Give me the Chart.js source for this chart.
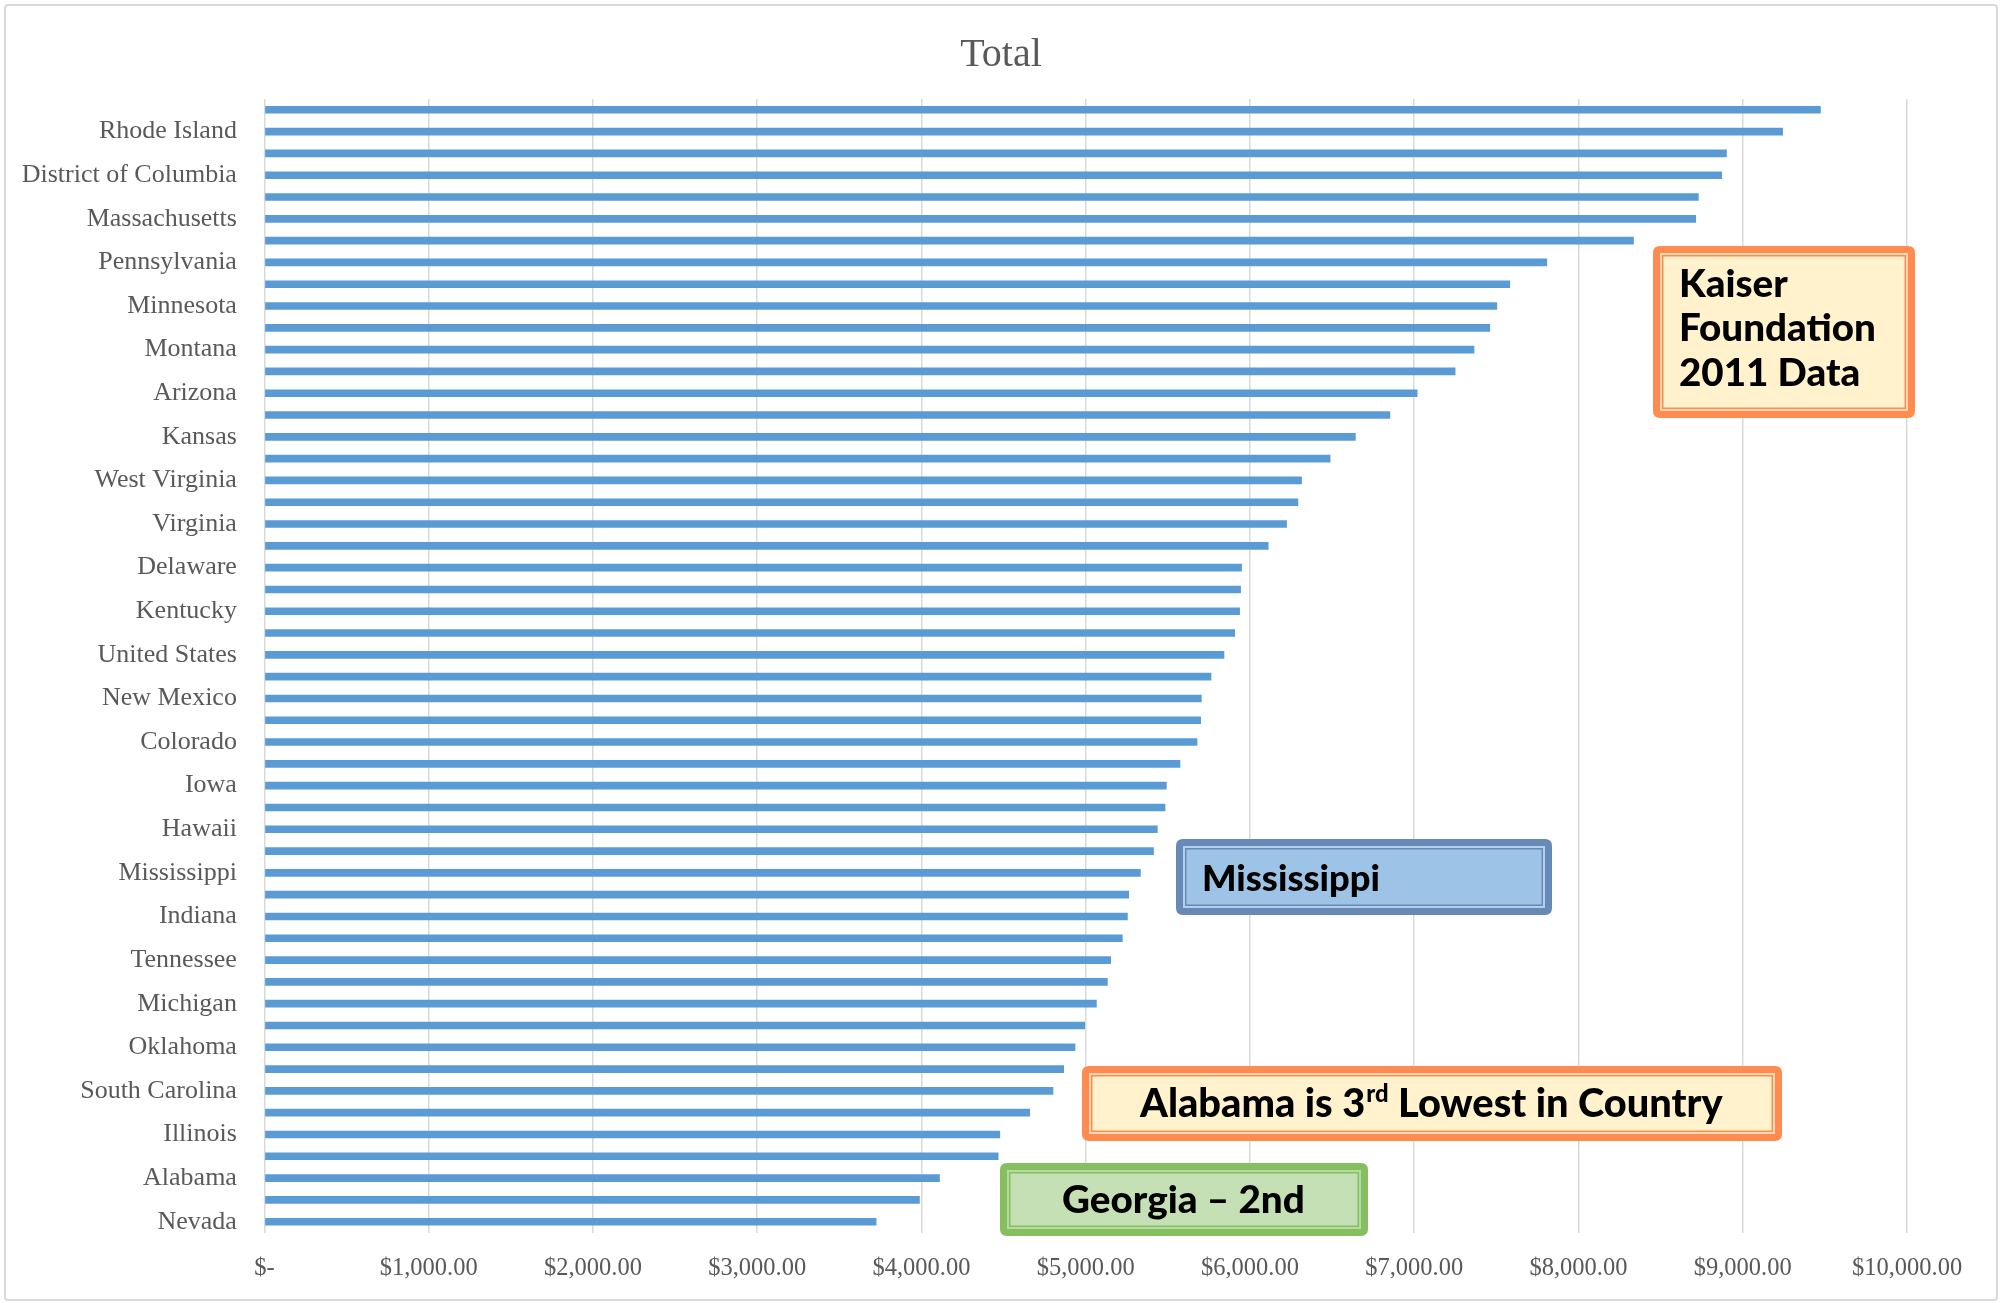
<!DOCTYPE html>
<html><head><meta charset="utf-8">
<script src="https://cdn.jsdelivr.net/npm/chart.js@4.4.1/dist/chart.umd.min.js"></script>
<style>html,body{margin:0;padding:0;background:#fff;overflow:hidden}canvas{display:block}</style>
</head><body>
<canvas id="c" width="2003" height="1303"></canvas>
<script>
const chartTitle = 'Total';
const states = ['Alaska','Rhode Island','New York','District of Columbia','North Dakota','Massachusetts','Connecticut','Pennsylvania','Vermont','Minnesota','New Jersey','Montana','Maine','Arizona','Wyoming','Kansas','New Hampshire','West Virginia','Nebraska','Virginia','Maryland','Delaware','Oregon','Kentucky','Missouri','United States','Wisconsin','New Mexico','Ohio','Colorado','Washington','Iowa','South Dakota','Hawaii','Louisiana','Mississippi','North Carolina','Indiana','Arkansas','Tennessee','Idaho','Michigan','Utah','Oklahoma','Texas','South Carolina','Florida','Illinois','California','Alabama','Georgia','Nevada'];
const totals = [9475,9245,8903,8874,8732,8716,8337,7809,7584,7505,7462,7366,7251,7020,6854,6644,6490,6316,6294,6225,6113,5951,5945,5939,5909,5844,5765,5706,5702,5680,5576,5493,5485,5438,5415,5335,5264,5256,5225,5154,5134,5067,4996,4937,4868,4803,4661,4479,4469,4112,3990,3726];
const xTickLabels = ['$-','$1,000.00','$2,000.00','$3,000.00','$4,000.00','$5,000.00','$6,000.00','$7,000.00','$8,000.00','$9,000.00','$10,000.00'];
const kaiserLines = ['Kaiser','Foundation','2011 Data'];
const mississippiNote = 'Mississippi';
const alabamaNote = ['Alabama is 3','rd',' Lowest in Country'];
const georgiaNote = 'Georgia \u2013 2nd';

const NOTE_FONT = '900 {s}px Lato';
function nf(s){return NOTE_FONT.replace('{s}',s);}
function rrect(ctx,x,y,w,h,r){
  ctx.beginPath();
  ctx.moveTo(x+r,y);ctx.lineTo(x+w-r,y);ctx.quadraticCurveTo(x+w,y,x+w,y+r);
  ctx.lineTo(x+w,y+h-r);ctx.quadraticCurveTo(x+w,y+h,x+w-r,y+h);
  ctx.lineTo(x+r,y+h);ctx.quadraticCurveTo(x,y+h,x,y+h-r);
  ctx.lineTo(x,y+r);ctx.quadraticCurveTo(x,y,x+r,y);ctx.closePath();
}
function drawBox(ctx,x,y,w,h,border,light,fill){
  rrect(ctx,x,y,w,h,7);ctx.fillStyle=border;ctx.fill();
  ctx.fillStyle=light;ctx.fillRect(x+7,y+7,w-14,h-14);
  ctx.fillStyle=border;ctx.fillRect(x+9,y+9,w-18,h-18);
  ctx.fillStyle=fill;ctx.fillRect(x+10.5,y+10.5,w-21,h-21);
}
function fitFont(ctx,text,target,base){
  ctx.font=nf(base);
  const m=ctx.measureText(text).width;
  let s=base*target/m; s=Math.max(base*0.85,Math.min(base*1.15,s));
  return s;
}

const deco = {
  id:'deco',
  beforeDraw(chart){
    const ctx=chart.ctx;
    ctx.save();
    ctx.fillStyle='#fff';ctx.fillRect(0,0,chart.width,chart.height);
    ctx.strokeStyle='#D9D9D9';ctx.lineWidth=2;
    rrect(ctx,5,5,1992,1295,3);ctx.stroke();
    ctx.fillStyle='#595959';ctx.font='40px "Liberation Serif"';
    ctx.textAlign='center';ctx.textBaseline='middle';
    ctx.fillText(chartTitle,1001,55);
    ctx.restore();
  },
  afterDraw(chart){
    const ctx=chart.ctx;
    ctx.save();
    ctx.textAlign='left';ctx.textBaseline='alphabetic';ctx.fillStyle='#000';
    drawBox(ctx,1653,246,262,172,'#FF8B4F','#FFD8B8','#FFF2CC');
    let s=fitFont(ctx,kaiserLines[1],197,36);
    ctx.fillStyle='#000';ctx.font=nf(s);
    ctx.fillText(kaiserLines[0],1679,297);
    ctx.fillText(kaiserLines[1],1679,341);
    ctx.fillText(kaiserLines[2],1679,386);
    drawBox(ctx,1176,839,376,76,'#6689B6','#B6CFEA','#9DC3E6');
    s=fitFont(ctx,mississippiNote,178,35);
    ctx.fillStyle='#000';ctx.font=nf(s);
    ctx.fillText(mississippiNote,1202,891);
    drawBox(ctx,1082,1066,700,75,'#FF8B4F','#FFD8B8','#FFF2CC');
    let base=35;
    ctx.font=nf(base);
    let w0=ctx.measureText(alabamaNote[0]).width+ctx.measureText(alabamaNote[2]).width;
    ctx.font=nf(base*0.6);
    w0+=ctx.measureText(alabamaNote[1]).width;
    s=base*582/w0; s=Math.max(base*0.85,Math.min(base*1.15,s));
    ctx.fillStyle='#000';
    let xx=1140;
    ctx.font=nf(s);ctx.fillText(alabamaNote[0],xx,1117);xx+=ctx.measureText(alabamaNote[0]).width;
    ctx.font=nf(s*0.6);ctx.fillText(alabamaNote[1],xx+1,1117-s*0.38);xx+=ctx.measureText(alabamaNote[1]).width+1;
    ctx.font=nf(s);ctx.fillText(alabamaNote[2],xx,1117);
    drawBox(ctx,1000,1163,368,73,'#86BF62','#B5DB9E','#C5E0B4');
    s=fitFont(ctx,georgiaNote,243,35);
    ctx.fillStyle='#000';ctx.font=nf(s);
    ctx.fillText(georgiaNote,1062,1213);
    ctx.restore();
  }
};

new Chart(document.getElementById('c'),{
  type:'bar',
  data:{labels:states,datasets:[{data:totals,backgroundColor:'#5B9BD5',borderWidth:0,barPercentage:0.35,categoryPercentage:1}]},
  options:{
    responsive:false,animation:false,devicePixelRatio:1,indexAxis:'y',
    layout:{padding:{left:0,right:96,top:98.9,bottom:0}},
    plugins:{legend:{display:false},tooltip:{enabled:false},title:{display:false}},
    scales:{
      x:{min:0,max:10000,
        ticks:{stepSize:1000,autoSkip:false,maxRotation:0,color:'#595959',padding:21,
          font:{family:'Liberation Serif',size:24.5},
          callback:(v,i)=>xTickLabels[i]},
        grid:{color:'#D9D9D9',lineWidth:1.5,drawTicks:false},
        border:{display:false},
        afterFit:(sc)=>{sc.height=70.4;}},
      y:{
        ticks:{autoSkip:false,color:'#595959',padding:19.5,
          font:{family:'Liberation Serif',size:26},
          callback:function(v,i){return i%2===1?this.getLabelForValue(v):'';}},
        grid:{display:false},border:{display:false},
        afterFit:(sc)=>{sc.width=264.4;}}
    }
  },
  plugins:[deco]
});
</script>
</body></html>
